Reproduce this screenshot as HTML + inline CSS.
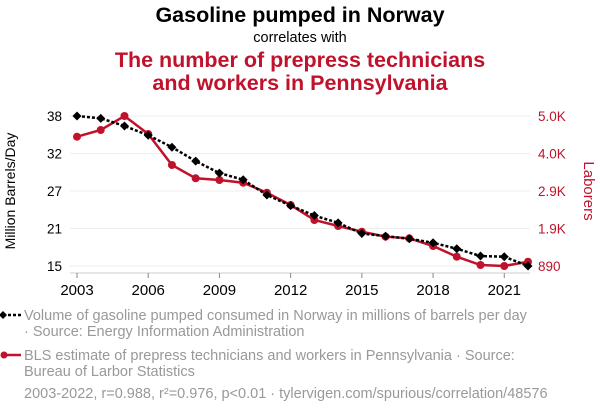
<!DOCTYPE html>
<html><head><meta charset="utf-8"><style>
body{margin:0;width:600px;height:414px;background:#fff;font-family:"Liberation Sans",sans-serif;overflow:hidden}
</style></head><body>
<svg width="600" height="414" xmlns="http://www.w3.org/2000/svg" font-family="Liberation Sans, sans-serif">
<text x="300" y="22" text-anchor="middle" font-size="21.5" font-weight="bold" fill="#000">Gasoline pumped in Norway</text>
<text x="300" y="42" text-anchor="middle" font-size="14.5" fill="#000">correlates with</text>
<text x="300" y="67" text-anchor="middle" font-size="21.5" font-weight="bold" fill="#c0122c">The number of prepress technicians</text>
<text x="300" y="90" text-anchor="middle" font-size="21.5" font-weight="bold" fill="#c0122c">and workers in Pennsylvania</text>
<g id="grid"></g>
<g id="axes"></g>
<g id="marks"></g>
<text transform="translate(15,191) rotate(-90)" text-anchor="middle" font-size="14" fill="#000">Million Barrels/Day</text>
<text transform="translate(584,191) rotate(90)" text-anchor="middle" font-size="15" fill="#c0122c">Laborers</text>
<g>
<line x1="3" y1="315" x2="21" y2="315" stroke="#000" stroke-width="2.5" stroke-dasharray="3,2"/>
<path d="M3 311 L7 315 L3 319 L-1 315Z" fill="#000"/>
<text x="24" y="320" font-size="14.5" fill="#999">Volume of gasoline pumped consumed in Norway in millions of barrels per day</text>
<text x="24" y="336" font-size="14.5" fill="#999">· Source: Energy Information Administration</text>
</g>
<g>
<line x1="3" y1="355" x2="21" y2="355" stroke="#c0122c" stroke-width="2.5"/>
<circle cx="4" cy="355" r="3.5" fill="#c0122c"/>
<text x="24" y="360" font-size="14.5" fill="#999">BLS estimate of prepress technicians and workers in Pennsylvania · Source:</text>
<text x="24" y="376" font-size="14.5" fill="#999">Bureau of Larbor Statistics</text>
</g>
<text x="24" y="398" font-size="14.5" fill="#999">2003-2022, r=0.988, r²=0.976, p&lt;0.01 · tylervigen.com/spurious/correlation/48576</text>
</svg>
<script>
const years=[2003,2004,2005,2006,2007,2008,2009,2010,2011,2012,2013,2014,2015,2016,2017,2018,2019,2020,2021,2022];
const gasoline=[37.8,37.45,36.3,34.9,33.1,31.0,29.2,28.2,25.9,24.3,22.8,21.7,20.1,19.7,19.3,18.7,17.8,16.7,16.6,15.2];
const laborers=[4433,4616,5000,4507,3657,3293,3246,3172,2898,2561,2150,1986,1830,1693,1649,1438,1145,917,890,1008];
const leftTicks=["15","21","27","32","38"];
const rightTicks=["890","1.9K","2.9K","4.0K","5.0K"];
const xTicks=[2003,2006,2009,2012,2015,2018,2021];
const NS="http://www.w3.org/2000/svg";
const x0=77,x1=528,yb=266,yt=116;
const gMin=Math.min(...gasoline),gMax=Math.max(...gasoline),lMin=Math.min(...laborers),lMax=Math.max(...laborers);
const X=v=>x0+(v-years[0])/(years[years.length-1]-years[0])*(x1-x0);
const YL=v=>yb-(v-gMin)/(gMax-gMin)*(yb-yt);
const YR=v=>yb-(v-lMin)/(lMax-lMin)*(yb-yt);
function mk(t,a,p){const e=document.createElementNS(NS,t);for(const k in a)e.setAttribute(k,a[k]);p.appendChild(e);return e;}
const grid=document.getElementById('grid'),axes=document.getElementById('axes'),marks=document.getElementById('marks');
leftTicks.forEach((t,i)=>{const y=yb-i*(yb-yt)/4;
 const l=mk('line',{x1:70,x2:530,y1:y,y2:y,stroke:'#eee','stroke-width':1},grid);
 
 const a=mk('text',{x:62,y:y+5,'text-anchor':'end','font-size':13.5,fill:'#000'},axes);a.textContent=t;
 
 const b=mk('text',{x:538,y:y+5,'font-size':13.5,fill:'#c0122c'},axes);b.textContent=rightTicks[i];
 });
const ax=mk('line',{x1:70,x2:530,y1:273,y2:273,stroke:'#ccc'},axes);

xTicks.forEach(v=>{const x=X(v);mk('line',{x1:x,x2:x,y1:273,y2:278,stroke:'#888'},axes);
 const t=mk('text',{x:x,y:295,'text-anchor':'middle','font-size':15,fill:'#000'},axes);t.textContent=v;
 });
const rp=mk('polyline',{points:years.map((y,i)=>X(y)+','+YR(laborers[i])).join(' '),fill:'none',stroke:'#c0122c','stroke-width':2.5},marks);

years.forEach((y,i)=>{const c=mk('circle',{cx:X(y),cy:YR(laborers[i]),r:4,fill:'#c0122c'},marks);
 });
const bp=mk('polyline',{points:years.map((y,i)=>X(y)+','+YL(gasoline[i])).join(' '),fill:'none',stroke:'#000','stroke-width':2.5,'stroke-dasharray':'3,2'},marks);

years.forEach((y,i)=>{const x=X(y),yy=YL(gasoline[i]);
 const d=mk('path',{d:`M${x} ${yy-4.5}L${x+4.5} ${yy}L${x} ${yy+4.5}L${x-4.5} ${yy}Z`,fill:'#000'},marks);
 });
</script>
</body></html>
